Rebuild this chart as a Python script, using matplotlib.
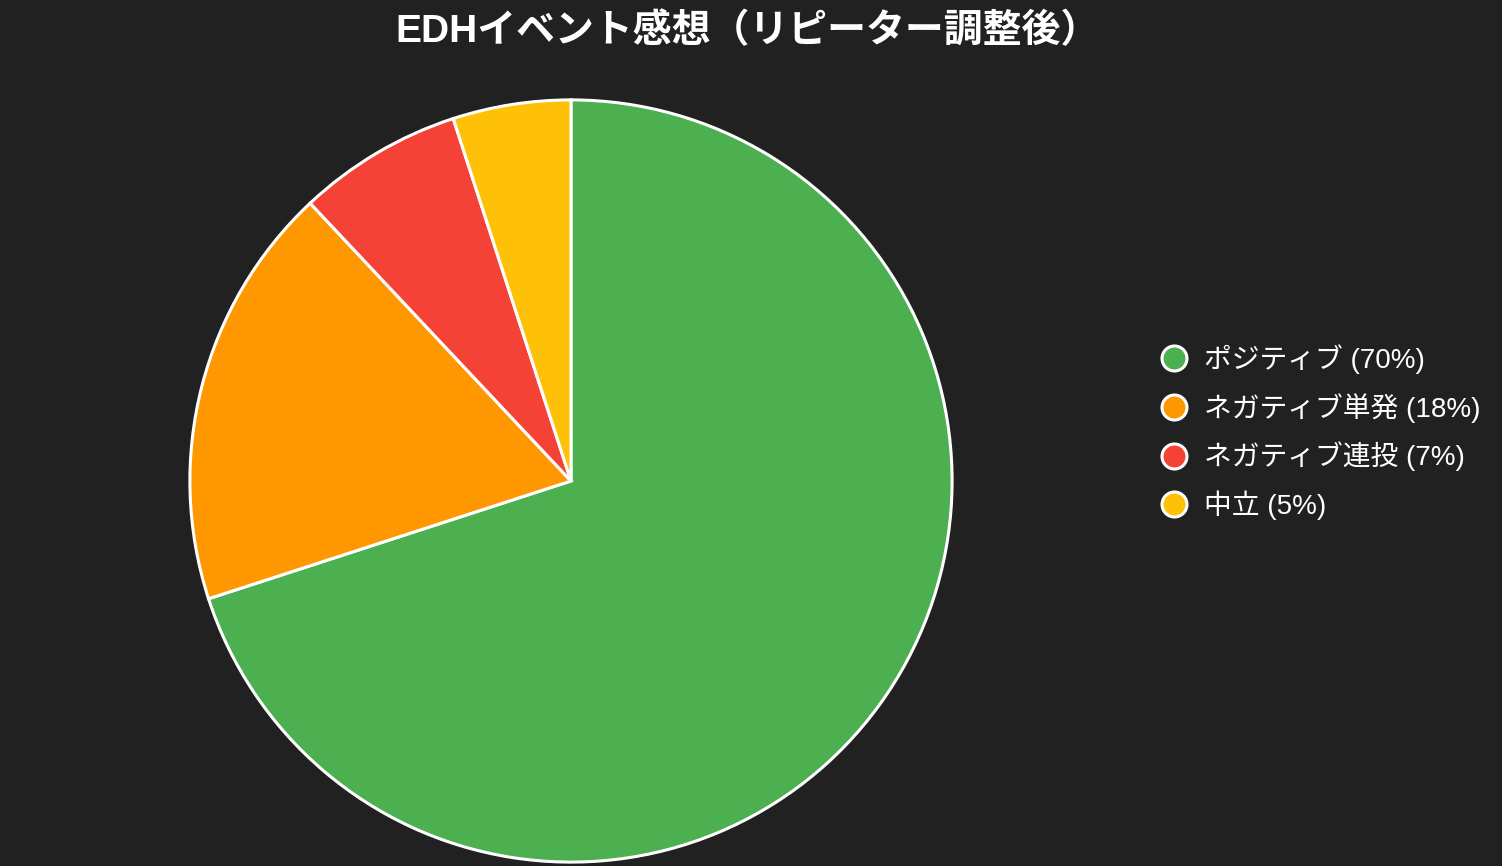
import matplotlib
matplotlib.use('Agg')
import matplotlib.pyplot as plt
from matplotlib.lines import Line2D

plt.rcParams['font.family'] = ['Liberation Sans', 'Noto Sans CJK JP', 'DejaVu Sans']

title = 'EDHイベント感想（リピーター調整後）'
labels = ['ポジティブ', 'ネガティブ単発', 'ネガティブ連投', '中立']
values = [70, 18, 7, 5]
colors = ['#4CAF50', '#FF9800', '#F44336', '#FFC107']
bg = '#212121'

W, H = 1502, 866
fig = plt.figure(figsize=(W / 100, H / 100), dpi=100, facecolor=bg)

cx, cy, r = 571, 481, 383
ax = fig.add_axes([(cx - r) / W, (H - cy - r) / H, 2 * r / W, 2 * r / H])
ax.set_facecolor(bg)
ax.pie(values, colors=colors, startangle=90, counterclock=False,
       wedgeprops=dict(edgecolor='white', linewidth=2.2), radius=1)
ax.set_xlim(-1.005, 1.005)
ax.set_ylim(-1.005, 1.005)
ax.set_aspect('equal')
ax.axis('off')

fig.text(748 / W, 1 - 31 / H, title, ha='center', va='center',
         color='white', fontsize=28, fontweight='bold')

handles = [Line2D([], [], marker='o', linestyle='none', markersize=18,
                  markerfacecolor=c, markeredgecolor='white', markeredgewidth=2.2)
           for c in colors]
texts = [f'{l} ({v}%)' for l, v in zip(labels, values)]
leg = fig.legend(handles, texts, loc='center left',
                 bbox_to_anchor=(1146 / W, 1 - 432 / H), frameon=False,
                 fontsize=20, labelcolor='white', labelspacing=0.68,
                 handletextpad=0.6, handlelength=1.0, borderpad=0)

fig.savefig('out.png', dpi=100, facecolor=bg)
